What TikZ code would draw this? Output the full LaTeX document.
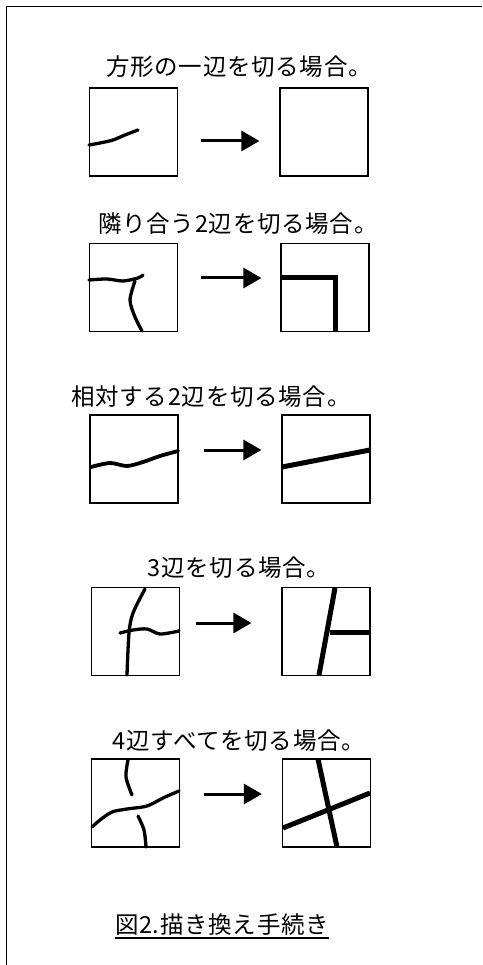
\documentclass[tikz,border=0pt]{standalone}
\usepackage{fontspec}
\newfontfamily\jp[LetterSpace=3]{Noto Sans CJK JP}
\usetikzlibrary{arrows.meta}
\tikzset{
  box/.style={draw, line width=1.2pt, minimum width=88pt, minimum height=88pt, inner sep=0pt},
  ttl/.style={font=\jp\fontsize{23.5}{24}\selectfont, inner sep=0pt, anchor=center},
  arr/.style={line width=3pt, -{Triangle[length=18pt,width=20pt]}},
  thin/.style={line width=3.3pt, line cap=round, line join=round},
  thick/.style={line width=5pt},
}
\begin{document}
\begin{tikzpicture}[x=1pt,y=-1pt]
\useasboundingbox (0,0) rectangle (482,965);
\draw[line width=1pt] (482,7) -- (6,7) -- (6,965);
% row 1
\node[ttl] (t1) at (239,67) {方形の一辺を切る場合。};
\node[box] (L1) at (133.5,132) {};
\node[box] (R1) at (324,132) {};
\draw[arr] ([xshift=23pt,yshift=-9pt]L1.east) -- ([xshift=-20pt,yshift=-9pt]R1.west);
\draw[thin] plot[smooth] coordinates {(89,145) (100,143) (113,140) (125,135) (138,130)};
% row 2
\node[ttl] (t2) at (238,224) {隣り合う2辺を切る場合。};
\node[box] (L2) at (133.5,287.5) {};
\node[box] (R2) at (325,287.5) {};
\draw[arr] ([xshift=23pt,yshift=9.5pt]L2.east) -- ([xshift=-19pt,yshift=9.5pt]R2.west);
\draw[thin] plot[smooth] coordinates {(89,280) (107,279) (123,281) (138,278) (143,275)};
\draw[thin] plot[smooth] coordinates {(135,281) (130,300) (135,317) (142,331)};
\draw[thick] (281,278) -- (335,278) -- (335,331);
% row 3
\node[ttl] (t3) at (211,397) {相対する2辺を切る場合。};
\node[box] (L3) at (134,459) {};
\node[box] (R3) at (326,459) {};
\draw[arr] ([xshift=25pt,yshift=9pt]L3.east) -- ([xshift=-20pt,yshift=9pt]R3.west);
\draw[thin,line width=3.8pt] plot[smooth] coordinates {(91,467) (110,463) (127,466) (143,462) (160,456) (178,451)};
\draw[thick] (282,467) -- (370,450);
% row 4
\node[ttl] (t4) at (239,568) {3辺を切る場合。};
\node[box] (L4) at (135.5,631.5) {};
\node[box] (R4) at (326,631.5) {};
\draw[arr] ([xshift=16pt,yshift=8.5pt]L4.east) -- ([xshift=-30pt,yshift=8.5pt]R4.west);
\draw[thin] plot[smooth] coordinates {(145,589) (133,613) (129,633) (127,675)};
\draw[thin] plot[smooth] coordinates {(120,633) (133,630) (147,629) (160,634) (179,631)};
\draw[thick] (335,588) -- (319,675);
\draw[thick] (330,632) -- (369,632);
% row 5
\node[ttl] (t5) at (239,741) {4辺すべてを切る場合。};
\node[box] (L5) at (135.5,803) {};
\node[box] (R5) at (326.5,803) {};
\draw[arr] ([xshift=24pt,yshift=9pt]L5.east) -- ([xshift=-20pt,yshift=9pt]R5.west);
\draw[thin] plot[smooth] coordinates {(128,760) (126,777) (132,795)};
\draw[thin] plot[smooth] coordinates {(138,816) (144,830) (146,847)};
\draw[thin] plot[smooth] coordinates {(92,827) (100,820) (112,812) (127,809) (147,806) (163,798) (179,791)};
\draw[thick] (318,759) -- (337,847);
\draw[thick] (283,828) -- (370,793);
% caption
\node[ttl] (cap) at (222,925) {図2.描き換え手続き};
\draw[line width=1.2pt] ([yshift=-2pt]cap.south west) -- ([yshift=-2pt]cap.south east);
\end{tikzpicture}
\end{document}
